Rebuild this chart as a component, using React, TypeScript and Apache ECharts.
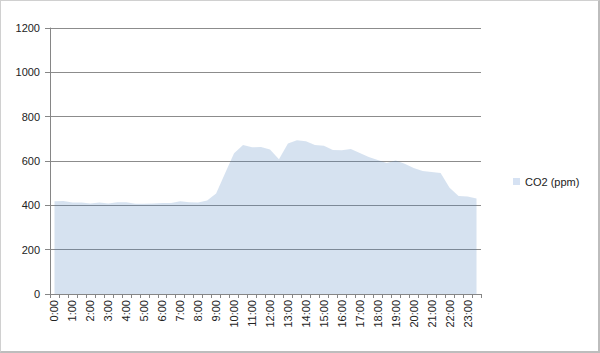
import React, { useEffect, useRef } from "react";
import * as echarts from "echarts";

const hours: string[] = [];
for (let h = 0; h < 24; h++) {
  hours.push(`${h}:00`);
  hours.push(`${h}:30`);
}
const categories = hours;

const co2Values = [
  418, 419, 413, 413, 408, 413, 408, 414, 414, 407,
  407, 408, 410, 411, 418, 414, 413, 422, 453, 545,
  635, 672, 662, 663, 652, 608, 679, 694, 689, 672,
  669, 650, 648, 654, 636, 618, 605, 591, 602, 588,
  568, 555, 550, 546, 479, 442, 440, 431,
];

const yTicks = { min: 0, max: 1200, interval: 200 };
const seriesName = "CO2 (ppm)";

export default function App() {
  const ref = useRef<HTMLDivElement>(null);
  useEffect(() => {
    if (!ref.current) return;
    const chart = echarts.init(ref.current, undefined, { renderer: "svg" });
    const font = "'Liberation Sans', 'DejaVu Sans', sans-serif";
    const fill = "rgba(79,129,189,0.23)";
    chart.setOption({
      animation: false,
      textStyle: { fontFamily: font },
      grid: { left: 50, right: 119, top: 28, bottom: 59, containLabel: false },
      legend: {
        show: true,
        orient: "vertical",
        left: 508,
        top: 171,
        itemWidth: 7,
        itemHeight: 7,
        itemGap: 4,
        icon: "rect",
        textStyle: { fontSize: 11, color: "#222", fontFamily: font },
        data: [{ name: seriesName, itemStyle: { color: "#d6e2f3" } }],
      },
      xAxis: {
        type: "category",
        data: categories,
        boundaryGap: true,
        axisLine: { lineStyle: { color: "#868686", width: 1 } },
        axisTick: { show: true, interval: 0, length: 4, lineStyle: { color: "#868686" } },
        axisLabel: {
          interval: 1,
          rotate: 90,
          fontSize: 11,
          color: "#222",
          margin: 6,
          fontFamily: font,
        },
        splitLine: { show: false },
      },
      yAxis: {
        type: "value",
        min: yTicks.min,
        max: yTicks.max,
        interval: yTicks.interval,
        axisLine: { show: true, lineStyle: { color: "#868686", width: 1 } },
        axisTick: { show: true, length: 5, inside: false, lineStyle: { color: "#868686" } },
        axisLabel: {
          fontSize: 11,
          color: "#222",
          margin: 10,
          fontFamily: font,
          formatter: (v: number) => String(v),
        },
        splitLine: { show: true, lineStyle: { color: "#8c8c8c", width: 1 } },
      },
      series: [
        {
          name: seriesName,
          type: "line",
          data: co2Values,
          symbol: "none",
          lineStyle: { width: 0, color: fill },
          itemStyle: { color: "#d6e2f3" },
          areaStyle: { color: fill, opacity: 1 },
        },
      ],
    });
    return () => chart.dispose();
  }, []);
  return (
    <div
      style={{
        position: "fixed",
        left: 0,
        top: 0,
        width: 600,
        height: 353,
        boxSizing: "border-box",
        borderTop: "1px solid #d0d0d0",
        borderLeft: "1px solid #d0d0d0",
        borderRight: "2px solid #bdbdbd",
        borderBottom: "2px solid #bdbdbd",
        background: "#fff",
      }}
    >
      <div ref={ref} style={{ position: "absolute", left: -1, top: -1, width: 600, height: 353 }} />
    </div>
  );
}
